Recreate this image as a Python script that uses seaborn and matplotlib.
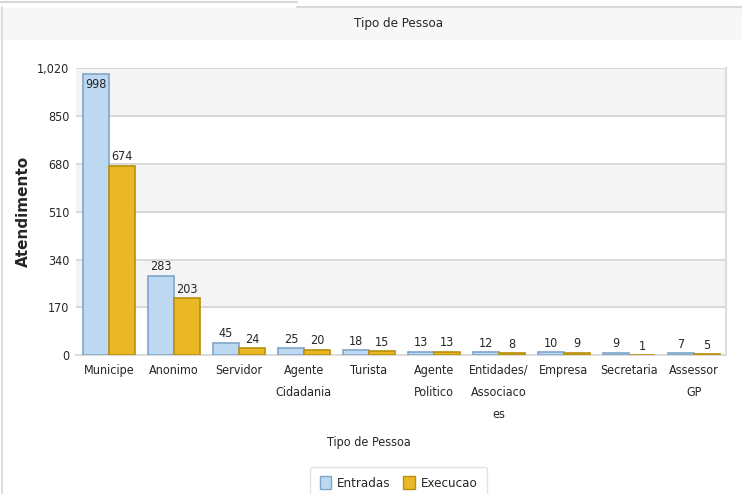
import pandas as pd
import matplotlib.pyplot as plt
import seaborn as sns
from matplotlib.patches import Rectangle

# Dados
categorias = ['Municipe', 'Anonimo', 'Servidor', 'Agente\nCidadania', 'Turista',
              'Agente\nPolitico', 'Entidades/\nAssociaco\nes', 'Empresa', 'Secretaria',
              'Assessor\nGP']
entradas = [998, 283, 45, 25, 18, 13, 12, 10, 9, 7]
execucao = [674, 203, 24, 20, 15, 13, 8, 9, 1, 5]
yticks = [0, 170, 340, 510, 680, 850, 1020]

df = pd.DataFrame({
    'Tipo': categorias * 2,
    'Valor': entradas + execucao,
    'Serie': ['Entradas'] * len(categorias) + ['Execucao'] * len(categorias),
})

sns.set_style('white')
plt.rcParams['font.family'] = ['DejaVu Sans']
plt.rcParams['font.stretch'] = 'condensed'

fig = plt.figure(figsize=(7.42, 4.94), dpi=100)
ax = fig.add_axes([0.103, 0.281, 0.876, 0.581])

# faixa do titulo e moldura
fig.patches.append(Rectangle((0.0, 1 - 40 / 494), 1.0, 32 / 494, transform=fig.transFigure,
                             facecolor='#f7f7f7', edgecolor='none', zorder=0))
fig.lines.append(plt.Line2D([0.40, 1.0], [1 - 7 / 494] * 2, transform=fig.transFigure,
                            color='#d8d8d8', lw=1.5))
fig.lines.append(plt.Line2D([0.0, 0.40], [1 - 2 / 494] * 2, transform=fig.transFigure,
                            color='#d8d8d8', lw=1.5))
fig.lines.append(plt.Line2D([0.003, 0.003], [0, 1 - 7 / 494], transform=fig.transFigure,
                            color='#d8d8d8', lw=1.2))
fig.text(0.537, 1 - 24 / 494, 'Tipo de Pessoa', ha='center', va='center', fontsize=9.5)

# faixas alternadas
for i in range(len(yticks) - 1):
    if i % 2 == 1:
        ax.axhspan(yticks[i], yticks[i + 1], color='#f4f4f4', zorder=0)

sns.barplot(data=df, x='Tipo', y='Valor', hue='Serie', ax=ax,
            palette={'Entradas': '#bcd9f1', 'Execucao': '#e9b824'},
            width=0.8, saturation=1, legend=False, zorder=3)

edges = {0: '#7fa6c9', 1: '#b8900c'}
for ci, cont in enumerate(ax.containers):
    for p in cont.patches:
        p.set_edgecolor(edges[ci])
        p.set_linewidth(1.2)
        h = p.get_height()
        x = p.get_x() + p.get_width() / 2
        if h > 950:
            ax.text(x, h - 12, f'{int(h)}', ha='center', va='top', fontsize=9, zorder=4)
        else:
            ax.text(x, h + 8, f'{int(h)}', ha='center', va='bottom', fontsize=9, zorder=4)

ax.set_ylim(0, 1020)
ax.set_yticks(yticks)
ax.set_yticklabels([f'{v:,}' for v in yticks], fontsize=9)
ax.grid(axis='y', color='#d4d4d4', lw=1.2, zorder=1)
ax.tick_params(axis='both', length=0, pad=6)
ax.tick_params(axis='y', pad=5)
for lbl in ax.get_xticklabels():
    lbl.set_fontsize(9)
    lbl.set_linespacing(1.9)
    lbl.set_va('top')
for s in ['top', 'left']:
    ax.spines[s].set_visible(False)
ax.spines['right'].set_color('#dcdcdc')
ax.spines['bottom'].set_color('#dcdcdc')
ax.spines['right'].set_linewidth(1.5)
ax.spines['bottom'].set_linewidth(1.5)

ax.set_xlabel('Tipo de Pessoa', fontsize=9, labelpad=0)
ax.xaxis.set_label_coords(0.45, -0.28)
ax.set_ylabel('Atendimento', fontsize=11, fontweight='bold', fontstretch='normal')
ax.yaxis.set_label_coords(-0.07, 0.5)

# legenda
handles = [Rectangle((0, 0), 1, 1, facecolor='#bcd9f1', edgecolor='#7fa6c9'),
           Rectangle((0, 0), 1, 1, facecolor='#e9b824', edgecolor='#b8900c')]
leg = fig.legend(handles, ['Entradas', 'Execucao'], loc='center', ncol=2,
                 bbox_to_anchor=(0.537, 1 - 483 / 494), frameon=True, fontsize=9.5,
                 handlelength=0.9, handleheight=1.2, columnspacing=1.0, handletextpad=0.4,
                 borderpad=0.7)
leg.get_frame().set_edgecolor('#dddddd')

fig.savefig('out.png', dpi=100)
